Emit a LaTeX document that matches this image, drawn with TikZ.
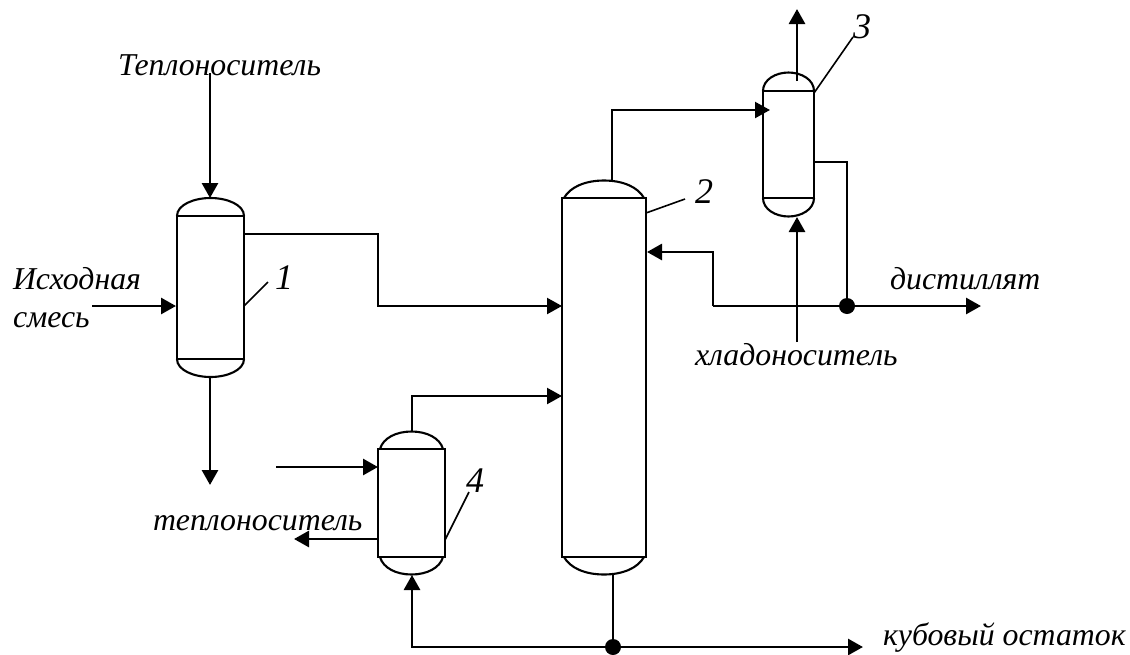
\documentclass[tikz,border=0pt]{standalone}
\usepackage{fontspec}
\setmainfont{Liberation Serif}
\usetikzlibrary{arrows.meta}
\tikzset{
  x=1pt,y=-1pt,
  vessel/.style={draw,line width=2.1pt,inner sep=0pt,outer sep=0pt,rectangle,fill=white},
  dome/.style={draw,line width=2.1pt},
  flow/.style={line width=2.8pt,-{Triangle[length=15pt,width=16pt]}},
  thinflow/.style={line width=2.2pt,-{Triangle[length=15pt,width=16pt]}},
  plain/.style={line width=2.8pt},
  leader/.style={line width=1.6pt},
  dotnode/.style={circle,fill=black,draw=none,minimum size=16pt,inner sep=0pt},
  lbl/.style={inner sep=0pt,outer sep=0pt,anchor=base west,font=\fontsize{31.8}{32}\selectfont\itshape},
  numlbl/.style={inner sep=0pt,outer sep=0pt,anchor=base west,font=\fontsize{36}{36}\selectfont\itshape},
}
% #1 vessel, #2 half width, #3 dome height, #4 inset at the rim, #5 control shift
\newcommand{\vesseldomes}[5]{%
  \draw[dome] ([xshift=#4 pt]#1.north west) .. controls +(#5,-.62*#3) and +(-.5*#2,0) .. ([yshift=#3 pt]#1.north)
     .. controls +(.5*#2,0) and +(-#5,-.62*#3) .. ([xshift=-#4 pt]#1.north east);
  \draw[dome] ([xshift=#4 pt]#1.south west) .. controls +(#5,.62*#3) and +(-.5*#2,0) .. ([yshift=-#3 pt]#1.south)
     .. controls +(.5*#2,0) and +(-#5,.62*#3) .. ([xshift=-#4 pt]#1.south east);
}
\begin{document}
\begin{tikzpicture}
\useasboundingbox (0,0) rectangle (1130,654);
% vessels
\node[vessel,minimum width=67pt,minimum height=143pt] (v1) at (210.5,287.5) {};
\node[vessel,minimum width=84pt,minimum height=359pt] (v2) at (604,377.5) {};
\node[vessel,minimum width=51pt,minimum height=107pt] (v3) at (788.5,144.5) {};
\node[vessel,minimum width=67pt,minimum height=108pt] (v4) at (411.5,503) {};
\vesseldomes{v1}{33.5}{18}{0}{0}
\vesseldomes{v2}{38}{17.5}{2}{6}
\vesseldomes{v3}{25.5}{18.5}{0}{0}
\vesseldomes{v4}{31}{17.5}{2}{3}
% labels
\node[lbl] (tTop) at (118,75) {Теплоноситель};
\node[lbl] (tFeed1) at (13,289) {Исходная};
\node[lbl] (tFeed2) at (13,327) {смесь};
\node[numlbl] (tOne) at (275,289) {1};
\node[numlbl] (tTwo) at (695,203) {2};
\node[numlbl] (tThree) at (853,38) {3};
\node[numlbl] (tFour) at (466,492) {4};
\node[lbl] (tDist) at (890,289) {дистиллят};
\node[lbl] (tCold) at (695,365) {хладоноситель};
\node[lbl] (tHeat) at (153,530) {теплоноситель};
\node[lbl] (tBot) at (883,645) {кубовый остаток};
% connector ends
\coordinate (heatIn) at (210,73);
\coordinate (v1top) at (210,198);
\coordinate (feedIn) at (92,306);
\coordinate (v1feed) at (176,306);
\coordinate (v1out) at (244,234);
\coordinate (bend1a) at (378,234);
\coordinate (bend1b) at (378,306);
\coordinate (v2feed) at (562,306);
\coordinate (v1bot) at (210,377);
\coordinate (heatOut) at (210,485);
\coordinate (v2top) at (612,180);
\coordinate (bend2a) at (612,110);
\coordinate (v3in) at (770,110);
\coordinate (v3inner) at (797,81);
\coordinate (ventOut) at (797,9);
\coordinate (v3out) at (814,162);
\coordinate (bend3a) at (847,162);
\node[dotnode] (jDist) at (847,306) {};
\coordinate (distOut) at (981,306);
\coordinate (refl1) at (713,306);
\coordinate (refl2) at (713,252);
\coordinate (v2refl) at (647,252);
\coordinate (coldIn) at (797,342);
\coordinate (v3bot) at (797,217);
\coordinate (v4top) at (412,432);
\coordinate (bend4a) at (412,396);
\coordinate (v2boil) at (562,396);
\coordinate (hIn4) at (276,467);
\coordinate (v4in) at (378,467);
\coordinate (v4out) at (378,539);
\coordinate (hOut4) at (294,539);
\coordinate (v2bot) at (613,574);
\node[dotnode] (jBot) at (613,647) {};
\coordinate (bend5) at (412,647);
\coordinate (v4bot) at (412,575);
\coordinate (botOut) at (863,647);
\coordinate (l1a) at (244,306);
\coordinate (l1b) at (268,282);
\coordinate (l2a) at (646,213);
\coordinate (l2b) at (685,199);
\coordinate (l3a) at (814,93);
\coordinate (l3b) at (853,37);
\coordinate (l4a) at (445,540);
\coordinate (l4b) at (469,492);
% connectors
\draw[flow] (heatIn) -- (v1top);
\draw[flow] (feedIn) -- (v1feed);
\draw[thinflow] (v1out) -- (bend1a) -- (bend1b) -- (v2feed);
\draw[flow] (v1bot) -- (heatOut);
\draw[thinflow] (v2top) -- (bend2a) -- (v3in);
\draw[flow] (v3inner) -- (ventOut);
\draw[plain] (v3out) -- (bend3a) -- (jDist);
\draw[flow] (jDist) -- (distOut);
\draw[plain] (jDist) -- (refl1);
\draw[flow] (refl1) -- (refl2) -- (v2refl);
\draw[flow] (coldIn) -- (v3bot);
\draw[thinflow] (v4top) -- (bend4a) -- (v2boil);
\draw[flow] (hIn4) -- (v4in);
\draw[flow] (v4out) -- (hOut4);
\draw[plain] (v2bot) -- (jBot);
\draw[flow] (jBot) -- (bend5) -- (v4bot);
\draw[flow] (jBot) -- (botOut);
\draw[leader] (l1a) -- (l1b);
\draw[leader] (l2a) -- (l2b);
\draw[leader] (l3a) -- (l3b);
\draw[leader] (l4a) -- (l4b);
\end{tikzpicture}
\end{document}
